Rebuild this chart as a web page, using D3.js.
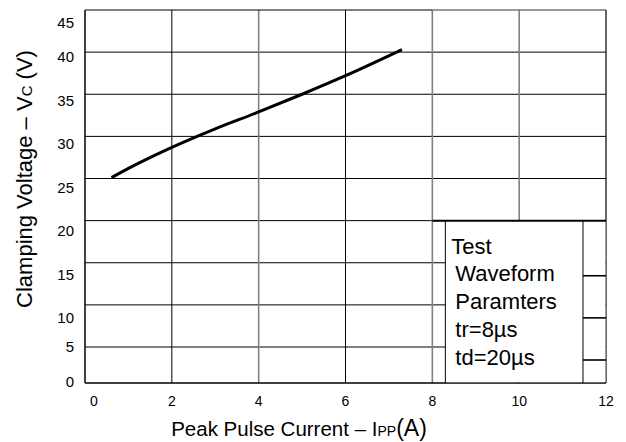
<!DOCTYPE html>
<html>
<head>
<meta charset="utf-8">
<script src="https://cdn.jsdelivr.net/npm/d3@7"></script>
<style>
  html, body { margin: 0; padding: 0; background: #fff; }
  svg { display: block; font-family: "Liberation Sans", Arial, sans-serif; }
</style>
</head>
<body>
<svg id="chart" width="626" height="442"></svg>
<script>
// ---- data ----
const currentA = [0.61, 1.0, 2.0, 3.0, 4.0, 5.0, 6.0, 7.3];
const clampV   = [25.1, 26.2, 28.7, 30.9, 32.9, 35.0, 37.2, 40.3];
const xTicks = [0, 2, 4, 6, 8, 10, 12];
const yTicks = [0, 5, 10, 15, 20, 25, 30, 35, 40, 45];
const legendLines = ["Test", "Waveform", "Paramters", "tr=8\u00b5s", "td=20\u00b5s"];

const svg = d3.select("#chart");
const x = d3.scaleLinear().domain([0, 12]).range([85, 606]);
const y = d3.scaleLinear().domain([0, 5, 45]).range([383, 347, 10]);
// label offset (original artwork places labels a bit under the gridlines)
const yLabDy = d3.scaleLinear().domain([0, 5, 10, 25, 40, 45]).range([-1, 0, 13, 9, 5, 13]);

const greyX = new Set([4, 8, 10]);

// horizontal grid lines
svg.append("g").selectAll("line").data(yTicks.filter(v => v > 0 && v < 45)).join("line")
  .attr("x1", x(0)).attr("x2", x(12))
  .attr("y1", d => y(d)).attr("y2", d => y(d))
  .attr("stroke", "#000").attr("stroke-width", 1);

// vertical grid lines
svg.append("g").selectAll("line").data(xTicks.filter(v => v > 0 && v < 12)).join("line")
  .attr("x1", d => x(d)).attr("x2", d => x(d))
  .attr("y1", y(45)).attr("y2", y(0))
  .attr("stroke", d => greyX.has(d) ? "#808080" : "#000")
  .attr("stroke-width", d => greyX.has(d) ? 1.6 : 1);

// frame
svg.append("line").attr("x1", x(0)).attr("x2", x(8)).attr("y1", y(45)).attr("y2", y(45)).attr("stroke", "#000");
svg.append("line").attr("x1", x(8)).attr("x2", x(12)).attr("y1", y(45)).attr("y2", y(45)).attr("stroke", "#777").attr("stroke-width", 1.3);
svg.append("line").attr("x1", x(12)).attr("x2", x(12)).attr("y1", y(45)).attr("y2", y(0)).attr("stroke", "#000").attr("stroke-width", 1.2);
svg.append("line").attr("x1", x(0)).attr("x2", x(0)).attr("y1", y(45)).attr("y2", y(0)).attr("stroke", "#000").attr("stroke-width", 1.5);
svg.append("line").attr("x1", x(0)).attr("x2", x(12)).attr("y1", y(0)).attr("y2", y(0)).attr("stroke", "#000").attr("stroke-width", 1.5);

// legend box
const bx0 = x(8.3), bx1 = x(11.47);
svg.append("rect").attr("x", bx0).attr("y", y(20)).attr("width", x(12) - bx0 - 0.6).attr("height", y(0) - y(20) - 0.8)
  .attr("fill", "#fff");
svg.append("line").attr("x1", bx0).attr("x2", bx0).attr("y1", y(20)).attr("y2", y(0)).attr("stroke", "#000");
svg.append("line").attr("x1", bx1).attr("x2", bx1).attr("y1", y(20)).attr("y2", y(0)).attr("stroke", "#000");
svg.append("line").attr("x1", x(8)).attr("x2", x(12)).attr("y1", y(20)).attr("y2", y(20)).attr("stroke", "#000").attr("stroke-width", 2);
svg.append("g").selectAll("line").data([15, 10, 5]).join("line")
  .attr("x1", bx1).attr("x2", x(12))
  .attr("y1", d => y(d) + 13).attr("y2", d => y(d) + 13)
  .attr("stroke", "#000").attr("stroke-width", 1.6);

svg.append("g").selectAll("text").data(legendLines).join("text")
  .attr("x", (d, i) => bx0 + (i === 0 ? 6 : 10))
  .attr("y", (d, i) => y(20) + 33 + i * 27.8)
  .attr("font-size", 22).attr("fill", "#000")
  .text(d => d);

// curve
const pts = currentA.map((c, i) => [c, clampV[i]]);
svg.append("path").datum(pts)
  .attr("d", d3.line().x(d => x(d[0])).y(d => y(d[1])).curve(d3.curveMonotoneX))
  .attr("fill", "none").attr("stroke", "#000").attr("stroke-width", 3);

// y tick labels
svg.append("g").selectAll("text").data(yTicks).join("text")
  .attr("x", 74).attr("y", d => y(d) + yLabDy(d))
  .attr("dy", "0.35em").attr("text-anchor", "end")
  .attr("font-size", 15).attr("fill", "#000")
  .text(d => d);

// x tick labels
svg.append("g").selectAll("text").data(xTicks).join("text")
  .attr("x", d => x(d) + (d === 0 ? 9 : 0)).attr("y", 401)
  .attr("dy", "0.35em").attr("text-anchor", "middle")
  .attr("font-size", 14).attr("fill", "#000")
  .text(d => d);

// x title
const xt = svg.append("text").attr("x", 299).attr("y", 436).attr("text-anchor", "middle")
  .attr("font-size", 20.5).attr("fill", "#000");
xt.append("tspan").text("Peak Pulse Current \u2013 I");
xt.append("tspan").attr("font-size", 14).text("PP");
xt.append("tspan").attr("font-size", 23).text("(A)");

// y title
const yt = svg.append("text").attr("transform", "translate(32,179) rotate(-90)")
  .attr("text-anchor", "middle").attr("font-size", 22).attr("fill", "#000");
yt.append("tspan").text("Clamping Voltage \u2013 V");
yt.append("tspan").attr("font-size", 15).text("C");
yt.append("tspan").attr("font-size", 22).text(" (V)");
</script>
</body>
</html>
